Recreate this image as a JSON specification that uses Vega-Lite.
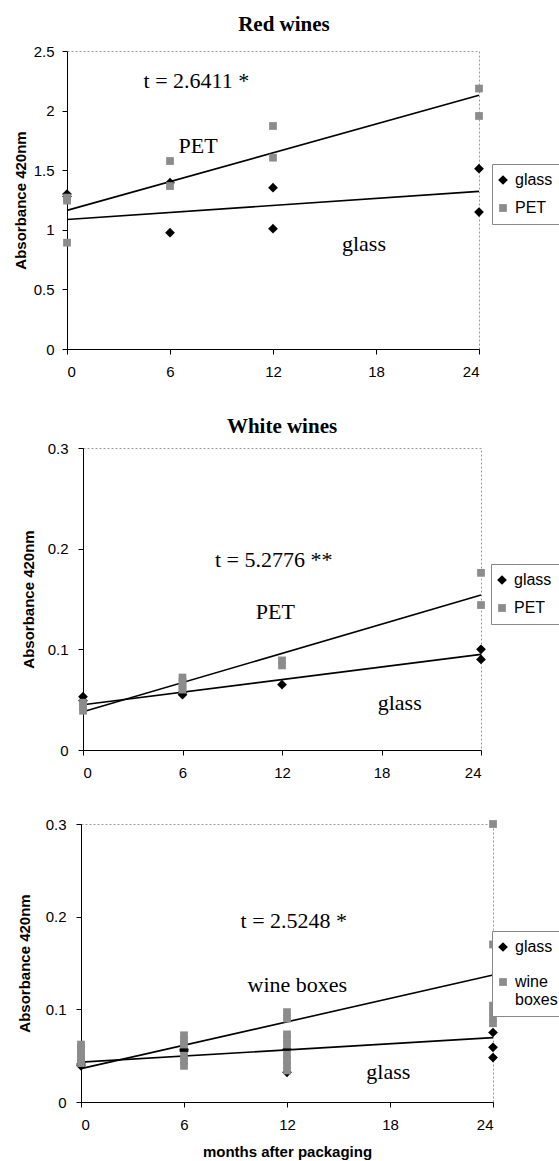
{
  "$schema": "https://vega.github.io/schema/vega-lite/v6.json",
  "background": "white",
  "padding": {"left": 6, "top": 13, "right": 0, "bottom": 0},
  "spacing": 35,
  "resolve": {
    "scale": {"color": "independent", "shape": "independent", "size": "independent"},
    "legend": {"color": "independent", "shape": "independent", "size": "independent"}
  },
  "config": {
    "view": {"stroke": "#9a9a9a", "strokeDash": [2, 2], "strokeWidth": 1},
    "axis": {
      "grid": false,
      "domainColor": "#000000",
      "domainWidth": 1,
      "tickColor": "#000000",
      "tickSize": 5,
      "labelColor": "#000000",
      "labelFont": "Liberation Sans",
      "labelFontSize": 15,
      "titleFont": "Liberation Sans",
      "titleFontSize": 15,
      "titleFontWeight": "bold",
      "titleColor": "#000000"
    },
    "axisX": {"labelPadding": 10},
    "axisY": {"labelPadding": 8},
    "legend": {
      "orient": "none",
      "strokeColor": "#888888",
      "fillColor": "#ffffff",
      "padding": 8,
      "symbolOffset": -5,
      "labelOffset": 4,
      "labelFont": "Liberation Sans",
      "labelFontSize": 16,
      "labelColor": "#000000",
      "symbolSize": 70,
      "rowPadding": 12,
      "symbolStrokeWidth": 0
    }
  },
  "datasets": {
    "empty": [],
    "red": [
      {"series": "glass", "kind": "obs", "month": 0, "abs": 1.30},
      {"series": "glass", "kind": "obs", "month": 0, "abs": 1.28},
      {"series": "glass", "kind": "obs", "month": 6, "abs": 1.395},
      {"series": "glass", "kind": "obs", "month": 6, "abs": 0.976},
      {"series": "glass", "kind": "obs", "month": 12, "abs": 1.353},
      {"series": "glass", "kind": "obs", "month": 12, "abs": 1.009},
      {"series": "glass", "kind": "obs", "month": 24, "abs": 1.513},
      {"series": "glass", "kind": "obs", "month": 24, "abs": 1.149},
      {"series": "PET", "kind": "obs", "month": 0, "abs": 1.27},
      {"series": "PET", "kind": "obs", "month": 0, "abs": 1.245},
      {"series": "PET", "kind": "obs", "month": 0, "abs": 0.892},
      {"series": "PET", "kind": "obs", "month": 6, "abs": 1.577},
      {"series": "PET", "kind": "obs", "month": 6, "abs": 1.367},
      {"series": "PET", "kind": "obs", "month": 12, "abs": 1.871},
      {"series": "PET", "kind": "obs", "month": 12, "abs": 1.605},
      {"series": "PET", "kind": "obs", "month": 24, "abs": 2.185},
      {"series": "PET", "kind": "obs", "month": 24, "abs": 1.955},
      {"series": "glass", "kind": "fit", "month": 0, "abs": 1.087},
      {"series": "glass", "kind": "fit", "month": 24, "abs": 1.322},
      {"series": "PET", "kind": "fit", "month": 0, "abs": 1.163},
      {"series": "PET", "kind": "fit", "month": 24, "abs": 2.128}
    ],
    "redText": [
      {"month": 7.54, "abs": 2.249, "label": "t = 2.6411 *"},
      {"month": 7.64, "abs": 1.703, "label": "PET"},
      {"month": 17.3, "abs": 0.877, "label": "glass"}
    ],
    "white": [
      {"series": "glass", "kind": "obs", "month": 0, "abs": 0.053},
      {"series": "glass", "kind": "obs", "month": 0, "abs": 0.049},
      {"series": "glass", "kind": "obs", "month": 6, "abs": 0.055},
      {"series": "glass", "kind": "obs", "month": 6, "abs": 0.057},
      {"series": "glass", "kind": "obs", "month": 12, "abs": 0.065},
      {"series": "glass", "kind": "obs", "month": 24, "abs": 0.100},
      {"series": "glass", "kind": "obs", "month": 24, "abs": 0.090},
      {"series": "PET", "kind": "obs", "month": 0, "abs": 0.047},
      {"series": "PET", "kind": "obs", "month": 0, "abs": 0.043},
      {"series": "PET", "kind": "obs", "month": 0, "abs": 0.039},
      {"series": "PET", "kind": "obs", "month": 6, "abs": 0.072},
      {"series": "PET", "kind": "obs", "month": 6, "abs": 0.068},
      {"series": "PET", "kind": "obs", "month": 6, "abs": 0.063},
      {"series": "PET", "kind": "obs", "month": 6, "abs": 0.060},
      {"series": "PET", "kind": "obs", "month": 12, "abs": 0.089},
      {"series": "PET", "kind": "obs", "month": 12, "abs": 0.084},
      {"series": "PET", "kind": "obs", "month": 24, "abs": 0.176},
      {"series": "PET", "kind": "obs", "month": 24, "abs": 0.144},
      {"series": "glass", "kind": "fit", "month": 0, "abs": 0.045},
      {"series": "glass", "kind": "fit", "month": 24, "abs": 0.095},
      {"series": "PET", "kind": "fit", "month": 0, "abs": 0.038},
      {"series": "PET", "kind": "fit", "month": 24, "abs": 0.154}
    ],
    "whiteText": [
      {"month": 11.5, "abs": 0.189, "label": "t = 5.2776 **"},
      {"month": 11.6, "abs": 0.137, "label": "PET"},
      {"month": 19.1, "abs": 0.047, "label": "glass"}
    ],
    "box": [
      {"series": "glass", "kind": "obs", "month": 0, "abs": 0.039},
      {"series": "glass", "kind": "obs", "month": 0, "abs": 0.041},
      {"series": "glass", "kind": "obs", "month": 6, "abs": 0.057},
      {"series": "glass", "kind": "obs", "month": 6, "abs": 0.055},
      {"series": "glass", "kind": "obs", "month": 12, "abs": 0.057},
      {"series": "glass", "kind": "obs", "month": 12, "abs": 0.032},
      {"series": "glass", "kind": "obs", "month": 24, "abs": 0.075},
      {"series": "glass", "kind": "obs", "month": 24, "abs": 0.059},
      {"series": "glass", "kind": "obs", "month": 24, "abs": 0.048},
      {"series": "wine boxes", "kind": "obs", "month": 0, "abs": 0.062},
      {"series": "wine boxes", "kind": "obs", "month": 0, "abs": 0.058},
      {"series": "wine boxes", "kind": "obs", "month": 0, "abs": 0.054},
      {"series": "wine boxes", "kind": "obs", "month": 0, "abs": 0.050},
      {"series": "wine boxes", "kind": "obs", "month": 0, "abs": 0.046},
      {"series": "wine boxes", "kind": "obs", "month": 0, "abs": 0.042},
      {"series": "wine boxes", "kind": "obs", "month": 6, "abs": 0.072},
      {"series": "wine boxes", "kind": "obs", "month": 6, "abs": 0.067},
      {"series": "wine boxes", "kind": "obs", "month": 6, "abs": 0.062},
      {"series": "wine boxes", "kind": "obs", "month": 6, "abs": 0.050},
      {"series": "wine boxes", "kind": "obs", "month": 6, "abs": 0.044},
      {"series": "wine boxes", "kind": "obs", "month": 6, "abs": 0.039},
      {"series": "wine boxes", "kind": "obs", "month": 12, "abs": 0.097},
      {"series": "wine boxes", "kind": "obs", "month": 12, "abs": 0.090},
      {"series": "wine boxes", "kind": "obs", "month": 12, "abs": 0.073},
      {"series": "wine boxes", "kind": "obs", "month": 12, "abs": 0.068},
      {"series": "wine boxes", "kind": "obs", "month": 12, "abs": 0.062},
      {"series": "wine boxes", "kind": "obs", "month": 12, "abs": 0.051},
      {"series": "wine boxes", "kind": "obs", "month": 12, "abs": 0.045},
      {"series": "wine boxes", "kind": "obs", "month": 12, "abs": 0.040},
      {"series": "wine boxes", "kind": "obs", "month": 12, "abs": 0.034},
      {"series": "wine boxes", "kind": "obs", "month": 24, "abs": 0.300},
      {"series": "wine boxes", "kind": "obs", "month": 24, "abs": 0.170},
      {"series": "wine boxes", "kind": "obs", "month": 24, "abs": 0.104},
      {"series": "wine boxes", "kind": "obs", "month": 24, "abs": 0.097},
      {"series": "wine boxes", "kind": "obs", "month": 24, "abs": 0.090},
      {"series": "wine boxes", "kind": "obs", "month": 24, "abs": 0.085},
      {"series": "glass", "kind": "fit", "month": 0, "abs": 0.043},
      {"series": "glass", "kind": "fit", "month": 24, "abs": 0.0695},
      {"series": "wine boxes", "kind": "fit", "month": 0, "abs": 0.036},
      {"series": "wine boxes", "kind": "fit", "month": 24, "abs": 0.137}
    ],
    "boxText": [
      {"month": 12.4, "abs": 0.1955, "label": "t = 2.5248 *"},
      {"month": 12.6, "abs": 0.126, "label": "wine boxes"},
      {"month": 17.9, "abs": 0.0324, "label": "glass"}
    ]
  },
  "vconcat": [
    {
      "spacing": 0,
      "hconcat": [
        {"data": {"name": "empty"}, "mark": "point", "width": 6, "height": 1, "view": {"stroke": null}},
        {
          "width": 412,
          "height": 298,
          "title": {"text": "Red wines", "font": "Liberation Serif", "fontSize": 21, "fontWeight": "bold", "color": "#000000", "anchor": "middle", "offset": 9, "dx": 11},
          "encoding": {
            "x": {"field": "month", "type": "quantitative", "scale": {"domain": [0, 24], "nice": false}, "axis": {"values": [0, 6, 12, 18, 24], "title": null}},
            "y": {"field": "abs", "type": "quantitative", "scale": {"domain": [0, 2.5], "nice": false}, "axis": {"values": [0, 0.5, 1, 1.5, 2, 2.5], "format": ".1~f", "title": "Absorbance 420nm", "titlePadding": 5}}
          },
          "layer": [
            {
              "data": {"name": "red"},
              "transform": [{"filter": "datum.kind == 'fit'"}],
              "mark": {"type": "line", "color": "#000000", "strokeWidth": 1.6},
              "encoding": {"detail": {"field": "series", "type": "nominal"}}
            },
            {
              "data": {"name": "red"},
              "transform": [{"filter": "datum.kind == 'obs'"}],
              "mark": {"type": "point", "filled": true, "opacity": 1},
              "encoding": {
                "color": {"field": "series", "type": "nominal", "scale": {"domain": ["glass", "PET"], "range": ["#000000", "#8c8c8c"]}, "legend": {"title": null, "legendX": 486, "legendY": 113}},
                "shape": {"field": "series", "type": "nominal", "scale": {"domain": ["glass", "PET"], "range": ["diamond", "square"]}, "legend": {"title": null, "legendX": 486, "legendY": 113}},
                "size": {"field": "series", "type": "ordinal", "scale": {"domain": ["glass", "PET"], "range": [95, 60]}, "legend": null}
              }
            },
            {
              "data": {"name": "redText"},
              "mark": {"type": "text", "font": "Liberation Serif", "fontSize": 22, "color": "#000000", "align": "center", "baseline": "middle"},
              "encoding": {"text": {"field": "label", "type": "nominal"}}
            }
          ]
        }
      ]
    },
    {
      "spacing": 0,
      "hconcat": [
        {"data": {"name": "empty"}, "mark": "point", "width": 14, "height": 1, "view": {"stroke": null}},
        {
          "width": 398,
          "height": 302,
          "title": {"text": "White wines", "font": "Liberation Serif", "fontSize": 21, "fontWeight": "bold", "color": "#000000", "anchor": "middle", "offset": 4},
          "encoding": {
            "x": {"field": "month", "type": "quantitative", "scale": {"domain": [0, 24], "nice": false}, "axis": {"values": [0, 6, 12, 18, 24], "title": null}},
            "y": {"field": "abs", "type": "quantitative", "scale": {"domain": [0, 0.3], "nice": false}, "axis": {"values": [0, 0.1, 0.2, 0.3], "format": ".1~f", "title": "Absorbance 420nm", "titlePadding": 11, "labelPadding": 10}}
          },
          "layer": [
            {
              "data": {"name": "white"},
              "transform": [{"filter": "datum.kind == 'fit'"}],
              "mark": {"type": "line", "color": "#000000", "strokeWidth": 1.6},
              "encoding": {"detail": {"field": "series", "type": "nominal"}}
            },
            {
              "data": {"name": "white"},
              "transform": [{"filter": "datum.kind == 'obs'"}],
              "mark": {"type": "point", "filled": true, "opacity": 1},
              "encoding": {
                "color": {"field": "series", "type": "nominal", "scale": {"domain": ["glass", "PET"], "range": ["#000000", "#8c8c8c"]}, "legend": {"title": null, "legendX": 485, "legendY": 116}},
                "shape": {"field": "series", "type": "nominal", "scale": {"domain": ["glass", "PET"], "range": ["diamond", "square"]}, "legend": {"title": null, "legendX": 485, "legendY": 116}},
                "size": {"field": "series", "type": "ordinal", "scale": {"domain": ["glass", "PET"], "range": [95, 60]}, "legend": null}
              }
            },
            {
              "data": {"name": "whiteText"},
              "mark": {"type": "text", "font": "Liberation Serif", "fontSize": 22, "color": "#000000", "align": "center", "baseline": "middle"},
              "encoding": {"text": {"field": "label", "type": "nominal"}}
            }
          ]
        }
      ]
    },
    {
      "spacing": 0,
      "hconcat": [
        {"data": {"name": "empty"}, "mark": "point", "width": 10, "height": 1, "view": {"stroke": null}},
        {
          "width": 412,
          "height": 278,
          "encoding": {
            "x": {"field": "month", "type": "quantitative", "scale": {"domain": [0, 24], "nice": false}, "axis": {"values": [0, 6, 12, 18, 24], "title": "months after packaging", "titlePadding": 12}},
            "y": {"field": "abs", "type": "quantitative", "scale": {"domain": [0, 0.3], "nice": false}, "axis": {"values": [0, 0.1, 0.2, 0.3], "format": ".1~f", "title": "Absorbance 420nm", "titlePadding": 13, "labelPadding": 10}}
          },
          "layer": [
            {
              "data": {"name": "box"},
              "transform": [{"filter": "datum.kind == 'fit'"}],
              "mark": {"type": "line", "color": "#000000", "strokeWidth": 1.6},
              "encoding": {"detail": {"field": "series", "type": "nominal"}}
            },
            {
              "data": {"name": "box"},
              "transform": [{"filter": "datum.kind == 'obs'"}],
              "mark": {"type": "point", "filled": true, "opacity": 1},
              "encoding": {
                "color": {"field": "series", "type": "nominal", "scale": {"domain": ["glass", "wine boxes"], "range": ["#000000", "#8c8c8c"]}, "legend": {"title": null, "legendX": 486, "legendY": 107, "padding": 8, "rowPadding": 19, "labelExpr": "datum.label == 'wine boxes' ? ['wine', 'boxes'] : datum.label"}},
                "shape": {"field": "series", "type": "nominal", "scale": {"domain": ["glass", "wine boxes"], "range": ["diamond", "square"]}, "legend": {"title": null, "legendX": 486, "legendY": 107, "padding": 8, "rowPadding": 19, "labelExpr": "datum.label == 'wine boxes' ? ['wine', 'boxes'] : datum.label"}},
                "size": {"field": "series", "type": "ordinal", "scale": {"domain": ["glass", "wine boxes"], "range": [95, 60]}, "legend": null}
              }
            },
            {
              "data": {"name": "boxText"},
              "mark": {"type": "text", "font": "Liberation Serif", "fontSize": 22, "color": "#000000", "align": "center", "baseline": "middle"},
              "encoding": {"text": {"field": "label", "type": "nominal"}}
            }
          ]
        }
      ]
    }
  ]
}
